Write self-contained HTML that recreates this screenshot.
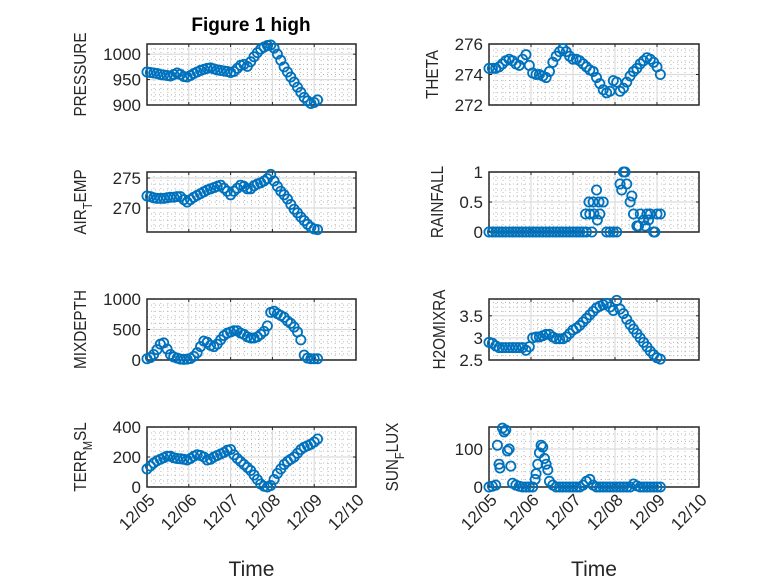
<!DOCTYPE html>
<html><head><meta charset="utf-8">
<style>
html,body{margin:0;padding:0;background:#fff;}
svg{display:block;font-family:"Liberation Sans",sans-serif;}
</style></head>
<body>
<svg id="fig" width="778" height="583" viewBox="0 0 778 583" xmlns="http://www.w3.org/2000/svg">
<rect width="778" height="583" fill="#fff"/>
<text x="251" y="31" text-anchor="middle" font-size="19" font-weight="bold" fill="#000">Figure 1 high</text>
</svg>
<script>
const times=[0,0.08,0.16,0.24,0.32,0.40,0.48,0.56,0.64,0.72,0.80,0.88,0.96,1.04,1.12,1.20,1.28,1.36,1.44,1.52,1.60,1.68,1.76,1.84,1.92,2.00,2.08,2.16,2.24,2.32,2.40,2.48,2.56,2.64,2.72,2.80,2.88,2.96,3.04,3.12,3.20,3.28,3.36,3.44,3.52,3.60,3.68,3.76,3.84,3.92,4.00,4.08];
const xTickLabels=["12/05","12/06","12/07","12/08","12/09","12/10"];
const pressure=[965,964,963,962,960,959,958,957,960,963,960,956,955,958,962,965,968,970,972,973,971,969,968,967,966,964,966,972,978,980,976,985,995,1003,1010,1014,1017,1018,1012,1000,988,975,965,955,945,935,925,915,908,903,905,910];
const theta=[274.4,274.4,274.4,274.5,274.7,274.9,275.0,274.9,274.7,274.6,275.0,275.3,274.6,274.1,274.0,274.0,273.9,273.8,274.2,274.8,275.2,275.5,275.7,275.5,275.2,275.0,275.0,274.9,274.7,274.5,274.3,274.2,273.8,273.4,273.0,272.8,272.9,273.6,273.5,272.9,273.1,273.5,273.9,274.2,274.4,274.7,274.9,275.1,275.0,274.8,274.5,274.0];
const airTemp=[272.0,271.9,271.7,271.6,271.6,271.6,271.7,271.8,271.8,271.9,271.9,271.4,271.0,271.4,271.8,272.1,272.4,272.7,273.0,273.2,273.4,273.6,273.8,273.3,272.8,272.2,272.8,273.3,273.8,273.6,273.2,273.2,273.7,274.0,274.2,274.5,274.9,275.6,274.5,273.6,272.8,272.2,271.5,270.6,269.8,269.2,268.5,267.9,267.3,266.8,266.5,266.4];
const rainfall=[0,0,0,0,0,0,0,0,0,0,0,0,0,0,0,0,0,0,0,0,0,0,0,0,0,0,0,0,0,0,0.3,0.5,0.7,0.3,0.5,0,0,0,0,0.8,1.0,0.8,0.5,0.3,0.1,0.3,0.2,0.3,0.3,0,0.3,0.3];
const rainExtraT=[2.30,2.38,2.45,2.50,2.62,2.58,3.16,3.24,3.40,3.56,3.72,3.80,3.95];
const rainExtraV=[0.3,0.5,0,0.3,0.5,0.2,0.7,1.0,0.6,0.1,0.1,0.2,0.0];
const mixDepth=[20,40,90,170,260,280,180,90,50,30,15,10,15,25,60,120,220,310,290,240,220,260,330,400,440,460,480,480,440,420,380,360,360,380,420,470,560,780,800,760,730,700,640,600,540,460,330,80,30,20,20,20];
const h2oMix=[2.90,2.88,2.82,2.78,2.78,2.78,2.78,2.78,2.78,2.78,2.78,2.72,2.80,3.00,3.02,3.02,3.05,3.08,3.08,3.02,2.98,2.98,2.98,3.02,3.10,3.18,3.22,3.28,3.36,3.44,3.52,3.60,3.68,3.72,3.75,3.78,3.70,3.62,3.85,3.65,3.55,3.42,3.30,3.20,3.10,3.00,2.90,2.80,2.70,2.62,2.55,2.52];
const terrMsl=[120,140,160,175,185,195,205,205,195,190,188,185,180,190,205,215,210,200,180,185,200,210,220,230,245,250,215,190,170,150,130,110,80,50,20,5,0,10,50,90,120,150,170,185,200,225,250,265,275,285,300,320];
const sunFlux=[0,2,5,60,155,150,100,10,5,2,0,0,0,0,35,90,105,60,15,5,0,0,0,0,0,0,0,0,5,15,20,5,0,0,0,0,0,0,0,0,0,0,0,8,3,0,0,0,0,0,0,0];
const sunExtraT=[0.20,0.26,0.36,0.44,0.52,1.10,1.16,1.24,1.32,1.40];
const sunExtraV=[110,50,145,95,55,20,60,110,75,45];

const NS="http://www.w3.org/2000/svg";
const svg=document.getElementById('fig');
function mk(tag,attrs,parent){const e=document.createElementNS(NS,tag);for(const k in attrs)e.setAttribute(k,attrs[k]);(parent||svg).appendChild(e);return e;}

const panels=[
 {name:'pressure',label:['PRESSURE'],lx:86,x0:147,x1:356,y0:44,y1:105,ymin:900,ymax:1020,yt:[900,950,1000],yl:["900","950","1000"],v:pressure},
 {name:'theta',label:['THETA'],lx:438,x0:489,x1:699,y0:44,y1:105,ymin:272,ymax:276,yt:[272,274,276],yl:["272","274","276"],v:theta},
 {name:'air-temp',label:['AIR','T','EMP'],lx:86,x0:147,x1:356,y0:172,y1:232,ymin:266,ymax:276,yt:[270,275],yl:["270","275"],v:airTemp},
 {name:'rainfall',label:['RAINFALL'],lx:443,x0:489,x1:699,y0:172,y1:232,ymin:0,ymax:1,yt:[0,0.5,1],yl:["0","0.5","1"],v:rainfall,et:rainExtraT,ev:rainExtraV},
 {name:'mixdepth',label:['MIXDEPTH'],lx:86,x0:147,x1:356,y0:299,y1:360,ymin:0,ymax:1000,yt:[0,500,1000],yl:["0","500","1000"],v:mixDepth},
 {name:'h2omixra',label:['H2OMIXRA'],lx:445,x0:489,x1:699,y0:299,y1:360,ymin:2.5,ymax:3.88,yt:[2.5,3,3.5],yl:["2.5","3","3.5"],v:h2oMix},
 {name:'terr-msl',label:['TERR','M','SL'],lx:86,x0:147,x1:356,y0:427,y1:487,ymin:0,ymax:400,yt:[0,200,400],yl:["0","200","400"],v:terrMsl,xl:true},
 {name:'sun-flux',label:['SUN','F','LUX'],lx:398,x0:489,x1:699,y0:427,y1:487,ymin:0,ymax:158,yt:[0,100],yl:["0","100"],v:sunFlux,et:sunExtraT,ev:sunExtraV,xl:true}
];

panels.forEach(p=>{
  const g=mk('g',{});
  
  
  const sx=t=>p.x0+(p.x1-p.x0)*t/5;
  const sy=v=>p.y1-(p.y1-p.y0)*(v-p.ymin)/(p.ymax-p.ymin);
  for(let d=0;d<5;d++)for(let k=1;k<6;k++){const x=sx(d+k/6);mk('line',{x1:x,x2:x,y1:p.y0,y2:p.y1,stroke:'#b8b8b8','stroke-width':1,'stroke-dasharray':'1 3'},g);}
  const step=p.yt[1]-p.yt[0];
  for(let v=p.yt[0]-step;v<p.ymax;v+=step/5){if(v<=p.ymin||v>=p.ymax)continue;const y=sy(v);mk('line',{x1:p.x0,x2:p.x1,y1:y,y2:y,stroke:'#b8b8b8','stroke-width':1,'stroke-dasharray':'1 3'},g);}
  for(let d=1;d<5;d++){const x=sx(d);mk('line',{x1:x,x2:x,y1:p.y0,y2:p.y1,stroke:'#dcdcdc','stroke-width':1.2},g);}
  p.yt.forEach(v=>{const y=sy(v);mk('line',{x1:p.x0,x2:p.x1,y1:y,y2:y,stroke:'#dcdcdc','stroke-width':1.2},g);});
  mk('rect',{x:p.x0,y:p.y0,width:p.x1-p.x0,height:p.y1-p.y0,fill:'none',stroke:'#262626','stroke-width':1.5},g);
  for(let d=0;d<=5;d++){const x=sx(d);mk('line',{x1:x,x2:x,y1:p.y1,y2:p.y1-3,stroke:'#262626'},g);mk('line',{x1:x,x2:x,y1:p.y0,y2:p.y0+3,stroke:'#262626'},g);}
  p.yt.forEach((v,i)=>{const y=sy(v);mk('line',{x1:p.x0,x2:p.x0+3,y1:y,y2:y,stroke:'#262626'},g);mk('line',{x1:p.x1,x2:p.x1-3,y1:y,y2:y,stroke:'#262626'},g);
    const t=mk('text',{x:p.x0-6,y:y+6,'text-anchor':'end','font-size':17,fill:'#262626'},g);t.textContent=p.yl[i];
    
    });
  const ly=(p.y0+p.y1)/2;
  const lab=mk('text',{transform:`translate(${p.lx},${ly}) rotate(-90) scale(0.85,1)`,'text-anchor':'middle','font-size':18,fill:'#262626'},g);
  
  
  if(p.label.length===1){lab.textContent=p.label[0];}
  else{const a=mk('tspan',{},lab);a.textContent=p.label[0];const b=mk('tspan',{dy:6,'font-size':13},lab);b.textContent=p.label[1];const c=mk('tspan',{dy:-6},lab);c.textContent=p.label[2];}
  if(p.xl){xTickLabels.forEach((s,i)=>{const x=sx(i);const t=mk('text',{transform:`translate(${x+9},${p.y1+14}) rotate(-45)`,'text-anchor':'end','font-size':17,fill:'#262626'},g);t.textContent=s;
      
      });
    const xt=mk('text',{x:(p.x0+p.x1)/2,y:576,'text-anchor':'middle','font-size':21,fill:'#262626'},g);xt.textContent='Time';
    
    }
  const sg=mk('g',{fill:'none',stroke:'#0072BD','stroke-width':1.8},g);
  
  
  p.v.forEach((v,i)=>{const c=mk('circle',{cx:sx(times[i]),cy:sy(v),r:4.6},sg);
    
    });
  if(p.et){p.et.forEach((t,i)=>{const c=mk('circle',{cx:sx(t),cy:sy(p.ev[i]),r:4.6},sg);
    
    });}
});
</script>
</body></html>
